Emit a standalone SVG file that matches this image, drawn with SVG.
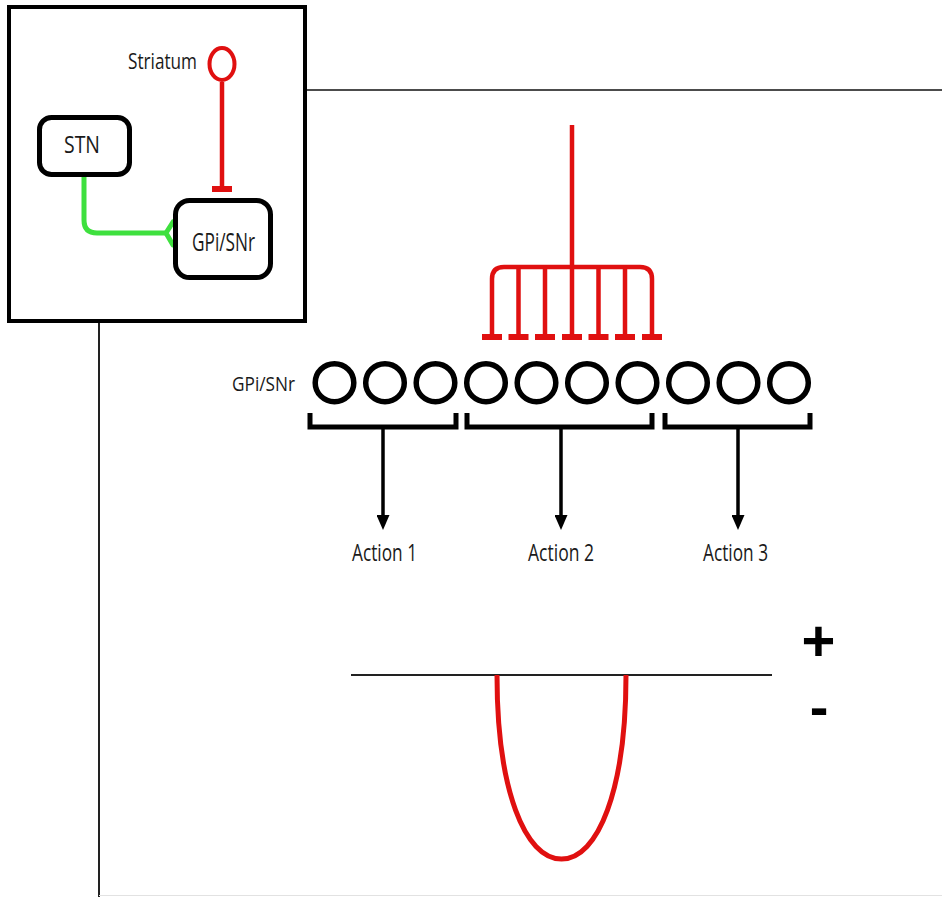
<svg xmlns="http://www.w3.org/2000/svg" width="942" height="897" viewBox="0 0 942 897">
<defs>
<style>
.lbl{font-family:"Open Sans","Liberation Sans",sans-serif;fill:#1a1a1a;}
.box{fill:#fff;stroke:#000;stroke-width:5;}
.red{fill:none;stroke:#e01010;stroke-width:4.5;}
.redbar{fill:#e01010;}
.ring{fill:#fff;stroke:#000;stroke-width:5.5;}
.brk{fill:none;stroke:#000;stroke-width:5;}
.arr{fill:none;stroke:#000;stroke-width:3.5;marker-end:url(#ah);}
.sign{font-family:"Liberation Sans",Arial,sans-serif;font-weight:bold;fill:#000;}
</style>
<marker id="ah" viewBox="0 0 15 13" refX="5" refY="6.5" markerWidth="15" markerHeight="13" markerUnits="userSpaceOnUse" orient="auto">
<path d="M0,0 L15,6.5 L0,13 Z" fill="#000"/>
</marker>
</defs>
<rect width="942" height="897" fill="#fff"/>

<!-- frame lines -->
<g id="frame">
<line x1="305" y1="90" x2="942" y2="90" stroke="#111" stroke-width="1.5"/>
<line x1="99" y1="321" x2="99" y2="897" stroke="#222" stroke-width="2"/>
<line x1="99" y1="895.5" x2="942" y2="895.5" stroke="#e2e2e2" stroke-width="1"/>
</g>

<!-- inset -->
<g id="inset">
<rect x="9" y="7" width="296" height="314" fill="#fff" stroke="#000" stroke-width="4"/>
</g>
<g id="inset-connectors">
<path d="M84,177 V220 Q84,233 97,233 H166" fill="none" stroke="#3ee03e" stroke-width="5"/>
<path d="M166,233 L173,222 M166,233 L173,245" fill="none" stroke="#3ee03e" stroke-width="5" stroke-linecap="round"/>
<line x1="222" y1="82" x2="222" y2="188" class="red"/>
<rect x="212" y="186" width="20" height="6" class="redbar"/>
</g>
<g id="striatum">
<ellipse cx="222" cy="64" rx="12.5" ry="16" fill="#fff" stroke="#e01010" stroke-width="4"/>
<text class="lbl" x="128" y="69" font-size="21" textLength="69" lengthAdjust="spacingAndGlyphs">Striatum</text>
</g>
<g id="stn">
<rect x="39.5" y="117.5" width="90" height="57" rx="12" class="box"/>
<text class="lbl" x="64" y="153" font-size="24" textLength="36" lengthAdjust="spacingAndGlyphs">STN</text>
</g>
<g id="gpi-inset">
<rect x="175.5" y="200.5" width="95" height="77" rx="14" class="box"/>
<text class="lbl" x="192" y="251" font-size="25" textLength="63" lengthAdjust="spacingAndGlyphs">GPi/SNr</text>
</g>

<!-- striatal input fork -->
<g id="striatal-input">
<path class="red" d="M572,125 V267"/>
<path class="red" d="M492,336 V279 Q492,267 504,267 H640 Q652,267 652,279 V336"/>
<path class="red" d="M518.5,267 V336 M545,267 V336 M572,267 V336 M598.5,267 V336 M625,267 V336"/>
<rect x="482" y="334" width="20" height="6" class="redbar"/>
<rect x="508.5" y="334" width="20" height="6" class="redbar"/>
<rect x="535" y="334" width="20" height="6" class="redbar"/>
<rect x="562" y="334" width="20" height="6" class="redbar"/>
<rect x="588.5" y="334" width="20" height="6" class="redbar"/>
<rect x="615" y="334" width="20" height="6" class="redbar"/>
<rect x="642" y="334" width="20" height="6" class="redbar"/>
</g>

<!-- GPi/SNr neurons -->
<g id="gpi-row">
<text class="lbl" x="232" y="391" font-size="20" textLength="63" lengthAdjust="spacingAndGlyphs">GPi/SNr</text>
<ellipse class="ring" cx="334.5" cy="382.7" rx="19.3" ry="19"/>
<ellipse class="ring" cx="385" cy="382.7" rx="19.3" ry="19"/>
<ellipse class="ring" cx="435.5" cy="382.7" rx="19.3" ry="19"/>
<ellipse class="ring" cx="486" cy="382.7" rx="19.3" ry="19"/>
<ellipse class="ring" cx="536.5" cy="382.7" rx="19.3" ry="19"/>
<ellipse class="ring" cx="587" cy="382.7" rx="19.3" ry="19"/>
<ellipse class="ring" cx="637.5" cy="382.7" rx="19.3" ry="19"/>
<ellipse class="ring" cx="688" cy="382.7" rx="19.3" ry="19"/>
<ellipse class="ring" cx="738.5" cy="382.7" rx="19.3" ry="19"/>
<ellipse class="ring" cx="789" cy="382.7" rx="19.3" ry="19"/>
</g>

<!-- channels -->
<g id="connectors">
<path class="brk" d="M310,413 V427 H456 V413"/>
<path class="brk" d="M467,413 V427 H652 V413"/>
<path class="brk" d="M665,413 V427 H810 V413"/>
<line class="arr" x1="383" y1="427" x2="383" y2="520"/>
<line class="arr" x1="561" y1="427" x2="561" y2="520"/>
<line class="arr" x1="738" y1="427" x2="738" y2="520"/>
</g>
<g id="action1"><text class="lbl" x="352" y="561" font-size="24" textLength="65" lengthAdjust="spacingAndGlyphs">Action 1</text></g>
<g id="action2"><text class="lbl" x="528" y="561" font-size="24" textLength="66" lengthAdjust="spacingAndGlyphs">Action 2</text></g>
<g id="action3"><text class="lbl" x="703" y="561" font-size="24" textLength="65" lengthAdjust="spacingAndGlyphs">Action 3</text></g>

<!-- activity plot -->
<g id="plot">
<line x1="351" y1="675" x2="772" y2="675" stroke="#222" stroke-width="2"/>
<path d="M497,675 C497,790 525,859 561.5,859 C598,859 626,790 626,675" fill="none" stroke="#e01010" stroke-width="5"/>
<text class="sign" x="818.5" y="661" font-size="58" text-anchor="middle">+</text>
<text class="sign" x="819" y="726" font-size="56" text-anchor="middle">-</text>
</g>
</svg>
